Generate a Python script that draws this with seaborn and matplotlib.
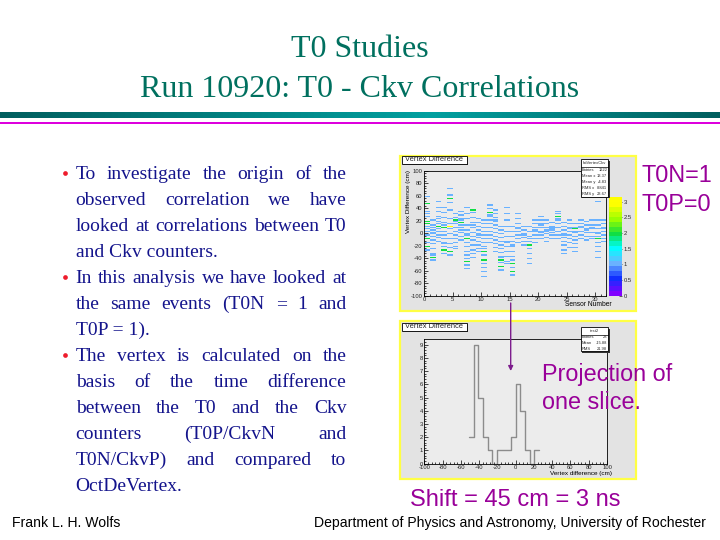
import numpy as np
import pandas as pd
import matplotlib
matplotlib.use("Agg")
import matplotlib.pyplot as plt
import seaborn as sns
from matplotlib.colors import LinearSegmentedColormap
from matplotlib.patches import Rectangle

# ---- data ----
title_lines = ["T0 Studies", "Run 10920: T0 - Ckv Correlations"]

# (text, justified, bullet)
bullet_lines = [
    ("To investigate the origin of the", True, True),
    ("observed correlation we have", True, False),
    ("looked at correlations between T0", True, False),
    ("and Ckv counters.", False, False),
    ("In this analysis we have looked at", True, True),
    ("the same events (T0N = 1 and", True, False),
    ("T0P = 1).", False, False),
    ("The vertex is calculated on the", True, True),
    ("basis of the time difference", True, False),
    ("between the T0 and the Ckv", True, False),
    ("counters (T0P/CkvN and", True, False),
    ("T0N/CkvP) and compared to", True, False),
    ("OctDeVertex.", False, False),
]

# vertex difference entries (cm) per sensor, upper 2D plot
sensor_entries = [
    [58, 46, 46, 35, 30, 27, 19, 19, 15, 15, 10, 6, 3, -4, -10, -10, -16, -21, -21, -27],
    [20, 12, 8, 5, 0, -2, -6, -12, -18, -25, -33, -36, -40, -40, -44],
    [50, 40, 34, 26, 22, 18, 14, 10, 10, 6, 2, -3, -8, -14],
    [40, 32, 24, 16, 12, 8, 8, 2, -4, -10, -16, -18, -22, -28, -28, -34],
    [70, 60, 54, 54, 48, 36, 22, 14, 10, 10, 10, 6, -2, -10, -18, -24, -30, -30, -36],
    [30, 24, 20, 20, 18, 14, 8, 2, -4, -10, -16, -22, -26],
    [34, 28, 22, 20, 16, 16, 12, 8, 4, 0, -6, -12],
    [40, 30, 22, 12, 4, -2, -4, -10, -10, -16, -22, -30, -36, -42, -46, -46, -52, -58],
    [36, 36, 32, 24, 16, 12, 8, 0, -6, -12, -20, -28, -34, -40],
    [22, 16, 10, 4, -2, -4, -8, -14, -20, -26, -30],
    [20, 14, 8, 2, -4, -10, -16, -22, -26, -30, -30, -36, -44, -44, -50, -56, -62, -70],
    [44, 38, 32, 32, 28, 26, 20, 14, 8, 2, -4, -10, -16],
    [36, 30, 24, 20, 18, 12, 6, 0, -6, -12, -18, -24, -30],
    [10, 4, -2, -8, -14, -20, -26, -32, -38, -40, -44, -44, -48, -54, -54, -60],
    [40, 30, 20, 10, 2, -6, -14, -16, -22, -30, -38, -46, -50],
    [10, 2, -6, -14, -20, -22, -30, -38, -44, -50, -50, -56, -62, -62, -68],
    [30, 22, 14, 8, 6, 2, -4, -10, -16],
    [10, 4, -2, -4, -8, -14, -20],
    [10, 2, -6, -10, -14, -20, -20, -26, -34, -42, -50],
    [20, 14, 8, 4, 2, -4, -10, -16],
    [26, 20, 14, 12, 8, 2, 0, -4, -10],
    [20, 14, 8, 4, 2, -2, -8, -14],
    [16, 10, 8, 6, 4, 0, -4, -10],
    [34, 30, 26, 26, 22, 20, 14, 8, 2, -4, -10],
    [16, 10, 4, -2, -4, -8, -14, -20, -28, -34],
    [20, 14, 8, 6, 2, -4, -10, -16, -24],
    [14, 8, 6, 6, 2, 0, -6, -12, -18, -24, -30],
    [20, 14, 10, 8, 2, -4, -10],
    [18, 12, 6, 4, 0, -6, -12],
    [20, 12, 8, 6, 0, -6, -10],
    [50, 20, 12, 6, 0, -2, -6, -10, -10, -16, -22, -30, -40],
    [20, 14, 8, 6, 2, -4, -10, -14],
]

x_ticks_2d = [0, 5, 10, 15, 20, 25, 30]
y_ticks_2d = [100, 80, 60, 40, 20, 0, -20, -40, -60, -80, -100]
cbar_ticks = [0, 0.5, 1, 1.5, 2, 2.5, 3]
cbar_labels = ["0", "0.5", "1", "1.5", "2", "2.5", "3"]

# projection of one slice, lower plot
hist_edges = [-51.0, -45.9, -40.8, -35.7, -30.6, -25.5, -20.4, -15.3, -10.2,
              -5.1, 0.0, 5.1, 10.2, 15.3, 20.4, 25.5]
hist_counts = [2, 9, 5, 2, 1, 0, 1, 1, 1, 2, 6, 4, 1, 0, 1]
x_ticks_1d = [-100, -80, -60, -40, -20, 0, 20, 40, 60, 80, 100]
y_ticks_1d = [0, 1, 2, 3, 4, 5, 6, 7, 8, 9]

stats_upper_title = "hdVertexCkv"
stats_upper_names = ["Entries", "Mean x", "Mean y", "RMS x", "RMS y"]
stats_upper_vals = ["1222", "13.37", "-4.83", "8.841", "23.67"]
stats_lower_title = "test2"
stats_lower_names = ["Entries", "Mean", "RMS"]
stats_lower_vals = ["28", "-15.88", "21.98"]

footer_left = "Frank L. H. Wolfs"
footer_right = "Department of Physics and Astronomy, University of Rochester"

# ---- style ----
sns.set_theme(style="white")
plt.rcParams["font.family"] = ["Liberation Sans", "DejaVu Sans"]

W, H = 720, 540
SERIF = ["Liberation Serif", "DejaVu Serif"]
PURPLE = "#990099"


def frac(x0, y0, x1, y1):
    return [x0 / W, 1 - y1 / H, (x1 - x0) / W, (y1 - y0) / H]


fig = plt.figure(figsize=(7.2, 5.4), dpi=100)
fig.patch.set_facecolor("white")

ax_bg = fig.add_axes([0, 0, 1, 1])
ax_bg.axis("off")

# title band
pos = np.linspace(0, 1, 720)
c1 = np.array([0x00, 0x5e, 0x5e]) / 255
c2 = np.array([0x00, 0xa0, 0xa0]) / 255
band = np.zeros((1, 720, 3))
for k in range(3):
    band[0, :, k] = np.interp(pos, [0, 0.6, 1], [c1[k], c2[k], c1[k]])
ax_bg.imshow(band, extent=(0, 720, 118.5, 113), aspect="auto", interpolation="bilinear")
ax_bg.add_patch(Rectangle((0, 121.6), 720, 2.2, color="#dd00dd", lw=0))

# plot pads
ax_bg.add_patch(Rectangle((400, 156), 236, 155, facecolor="#e3e3e3", edgecolor="#ffff44", lw=1.6))
ax_bg.add_patch(Rectangle((400, 321), 236, 158, facecolor="#e3e3e3", edgecolor="#ffff44", lw=1.6))
ax_bg.set_xlim(0, W)
ax_bg.set_ylim(H, 0)

# ---- upper: 2D histogram ----
xs, ys = [], []
for s, vals in enumerate(sensor_entries):
    xs += [s + 0.5] * len(vals)
    ys += vals
y_edges = np.arange(-100, 102, 2)
x_edges = np.arange(0, 33, 1)
counts, _, _ = np.histogram2d(ys, xs, bins=[y_edges, x_edges])
df = pd.DataFrame(counts[::-1])

cmap = LinearSegmentedColormap.from_list(
    "root",
    [(0.0, "#8000ff"), (0.16, "#1030ff"), (0.32, "#6cb6ff"), (0.48, "#00ffff"),
     (0.635, "#10dd40"), (0.79, "#99ff00"), (0.95, "#ffff00"), (1.0, "#ffff00")],
    N=20)

ax_h = fig.add_axes(frac(424.3, 170.7, 606.4, 295.7))
ax_cb = fig.add_axes(frac(609, 197, 622, 295.7))
sns.heatmap(df, ax=ax_h, cmap=cmap, vmin=0, vmax=3.15, mask=(df == 0),
            cbar=True, cbar_ax=ax_cb, linewidths=0, xticklabels=False, yticklabels=False)
ax_h.set_facecolor("#ececec")
for sp in ax_h.spines.values():
    sp.set_visible(True)
    sp.set_color("black")
    sp.set_linewidth(0.6)
ax_h.set_xticks(x_ticks_2d)
ax_h.set_xticklabels([str(v) for v in x_ticks_2d])
ax_h.set_xticks(np.arange(0, 33, 1), minor=True)
ax_h.set_yticks([(100 - v) / 2 for v in y_ticks_2d])
ax_h.set_yticklabels([str(v) for v in y_ticks_2d], rotation=0)
ax_h.set_yticks([(100 - v) / 2 for v in range(-100, 101, 4)], minor=True)
ax_h.tick_params(which="both", direction="in", left=True, bottom=True, top=False, right=False,
                 width=0.5, color="black", labelsize=4.2, pad=1.2)
ax_h.tick_params(which="major", length=3.2)
ax_h.tick_params(which="minor", length=1.6)
ax_h.set_xlabel("")
ax_h.set_ylabel("")
ax_h.set_xlim(0, 32)
ax_h.set_ylim(100, 0)

cb = ax_h.collections[0].colorbar
cb.set_ticks(cbar_ticks)
cb.set_ticklabels(cbar_labels)
cb.ax.tick_params(labelsize=4.2, length=2, width=0.5, pad=1, direction="in")
cb.outline.set_linewidth(0)

fig.text(408.5 / W, 1 - 170 / H, "Vertex Difference (cm)", rotation=90, ha="center", va="top",
         fontsize=4.6, color="black")
fig.text(612 / W, 1 - 305 / H, "Sensor Number", ha="right", va="center", fontsize=4.8, color="black")

# ---- lower: projection ----
ax_l = fig.add_axes(frac(424.3, 338.7, 607, 463.7))
centers = [(hist_edges[i] + hist_edges[i + 1]) / 2 for i in range(len(hist_counts))]
sns.histplot(x=centers, weights=hist_counts, bins=hist_edges, element="step", fill=False,
             color="#8c8c8c", linewidth=1.0, ax=ax_l)
ax_l.set_facecolor("#ececec")
ax_l.set_xlim(-100, 100)
ax_l.set_ylim(0, 9.45)
for sp in ax_l.spines.values():
    sp.set_visible(True)
    sp.set_color("black")
    sp.set_linewidth(0.6)
ax_l.set_xticks(x_ticks_1d)
ax_l.set_xticklabels([str(v) for v in x_ticks_1d])
ax_l.set_xticks(np.arange(-100, 101, 4), minor=True)
ax_l.set_yticks(y_ticks_1d)
ax_l.set_yticklabels([str(v) for v in y_ticks_1d])
ax_l.set_yticks(np.arange(0, 9.4, 0.2), minor=True)
ax_l.tick_params(which="both", direction="in", left=True, bottom=True, top=False, right=False,
                 width=0.5, color="black", labelsize=4.2, pad=1.2)
ax_l.tick_params(which="major", length=3.2)
ax_l.tick_params(which="minor", length=1.6)
ax_l.set_xlabel("")
ax_l.set_ylabel("")
fig.text(612 / W, 1 - 473 / H, "Vertex difference (cm)", ha="right", va="center", fontsize=4.6,
         color="black")

# ---- overlay ----
ax_top = fig.add_axes([0, 0, 1, 1], zorder=5)
ax_top.set_facecolor("none")
ax_top.axis("off")
ax_top.set_xlim(0, W)
ax_top.set_ylim(H, 0)


def box(x0, y0, x1, y1):
    ax_top.add_patch(Rectangle((x0 + 1.2, y0 + 1.2), x1 - x0, y1 - y0, facecolor="#333333", lw=0))
    ax_top.add_patch(Rectangle((x0, y0), x1 - x0, y1 - y0, facecolor="white", edgecolor="black", lw=0.6))


def stats(x0, y0, x1, y1, title, names, vals):
    box(x0, y0, x1, y1)
    th = 7.2
    ax_top.text((x0 + x1) / 2, y0 + th / 2 + 0.3, title, ha="center", va="center", fontsize=3.0)
    ax_top.plot([x0, x1], [y0 + th, y0 + th], color="black", lw=0.5)
    rh = (y1 - y0 - th) / len(names)
    for i, (n, v) in enumerate(zip(names, vals)):
        yc = y0 + th + rh * (i + 0.5)
        ax_top.text(x0 + 1.0, yc, n, ha="left", va="center", fontsize=2.9)
        ax_top.text(x1 - 1.0, yc, v, ha="right", va="center", fontsize=2.9)


box(401.7, 155.5, 466.7, 163.8)
ax_top.text(434.2, 159.8, "Vertex Difference", ha="center", va="center", fontsize=5.4)
box(401.7, 322.5, 466.7, 331)
ax_top.text(434.2, 326.9, "Vertex Difference", ha="center", va="center", fontsize=5.4)
stats(580.7, 159.3, 608.3, 196.7, stats_upper_title, stats_upper_names, stats_upper_vals)
stats(580.7, 327.3, 608.3, 351.3, stats_lower_title, stats_lower_names, stats_lower_vals)

# titles
ax_top.text(360, 57, title_lines[0], ha="center", va="baseline", fontsize=23,
            family=SERIF, color="#00705f")
ax_top.text(360, 97, title_lines[1], ha="center", va="baseline", fontsize=23,
            family=SERIF, color="#00705f")

# bullets, justified
renderer = fig.canvas.get_renderer()
x_left, x_right = 75.7, 346.5
for i, (line, just, bullet) in enumerate(bullet_lines):
    yb = 179.3 + 26 * i
    if bullet:
        ax_top.plot(64.5, yb - 6.3, "o", ms=3.4, color="#ee1c2c", mec="none")
    if not just:
        ax_top.text(x_left, yb, line, ha="left", va="baseline", fontsize=14,
                    family=SERIF, color="#14148c")
        continue
    words = line.split()
    arts = [ax_top.text(0, yb, w, ha="left", va="baseline", fontsize=14,
                        family=SERIF, color="#14148c") for w in words]
    widths = [a.get_window_extent(renderer).width for a in arts]
    gap = (x_right - x_left - sum(widths)) / (len(words) - 1)
    x = x_left
    for a, wd in zip(arts, widths):
        a.set_x(x)
        x += wd + gap

# annotations
ax_top.text(641, 181.7, "T0N=1", ha="left", va="baseline", fontsize=16.8, color=PURPLE)
ax_top.text(641, 211, "T0P=0", ha="left", va="baseline", fontsize=16.8, color=PURPLE)
ax_top.text(541.5, 381.3, "Projection of", ha="left", va="baseline", fontsize=16.8, color=PURPLE)
ax_top.text(541.5, 408.7, "one slice.", ha="left", va="baseline", fontsize=16.8, color=PURPLE)
ax_top.text(410, 506, "Shift = 45 cm = 3 ns", ha="left", va="baseline", fontsize=17, color=PURPLE)
ax_top.annotate("", xy=(510.7, 371), xytext=(510.7, 303),
                arrowprops=dict(arrowstyle="-|>", color="#7d1d8d", lw=1.0,
                                mutation_scale=7, shrinkA=0, shrinkB=0))

# footer
ax_top.text(12, 526.7, footer_left, ha="left", va="baseline", fontsize=10.1, color="black")
ax_top.text(706, 526.7, footer_right, ha="right", va="baseline", fontsize=10.1, color="black")

fig.savefig("out.png", dpi=100, facecolor="white")
